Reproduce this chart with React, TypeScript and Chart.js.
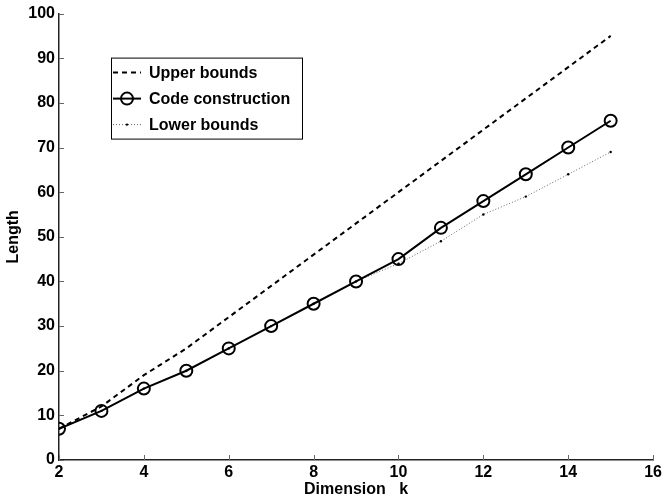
import React, { useEffect, useRef } from "react";
import { Chart, registerables } from "chart.js";

Chart.register(...registerables);

const dimensions = [2, 3, 4, 5, 6, 7, 8, 9, 10, 11, 12, 13, 14, 15];
const upperBounds = [7, 12, 19, 25, 32, 39, 46, 53, 60, 67, 74, 81, 88, 95];
const codeConstruction = [7, 11, 16, 20, 25, 30, 35, 40, 45, 52, 58, 64, 70, 76];
const lowerBounds = [7, 11, 16, 20, 25, 30, 35, 40, 44, 49, 55, 59, 64, 69];
const xTicks = [2, 4, 6, 8, 10, 12, 14, 16];
const yTicks = [0, 10, 20, 30, 40, 50, 60, 70, 80, 90, 100];
const seriesLabels = ["Upper bounds", "Code construction", "Lower bounds"];
const xTitle = "Dimension   k";
const yTitle = "Length";

const FONT = "'Liberation Sans', Arial, Helvetica, sans-serif";

const inwardTicks = {
  id: "inwardTicks",
  afterDraw(chart: any) {
    const { ctx, chartArea, scales } = chart;
    ctx.save();
    ctx.strokeStyle = "#666";
    ctx.lineWidth = 1;
    const xs = scales.x;
    const ys = scales.y;
    xs.ticks.forEach((t: any) => {
      const px = Math.round(xs.getPixelForValue(t.value)) + 0.5;
      ctx.beginPath();
      ctx.moveTo(px, chartArea.bottom);
      ctx.lineTo(px, chartArea.bottom - 5);
      ctx.stroke();
    });
    ys.ticks.forEach((t: any) => {
      const py = Math.round(ys.getPixelForValue(t.value)) + 0.5;
      ctx.beginPath();
      ctx.moveTo(chartArea.left, py);
      ctx.lineTo(chartArea.left + 5, py);
      ctx.stroke();
    });
    ctx.restore();
  },
};

const boxLegend = {
  id: "boxLegend",
  afterDraw(chart: any) {
    const { ctx, chartArea } = chart;
    const left = chartArea.left + 52;
    const top = chartArea.top + 44;
    const w = 191;
    const h = 81;
    ctx.save();
    ctx.fillStyle = "#fff";
    ctx.fillRect(left, top, w, h);
    ctx.strokeStyle = "#000";
    ctx.lineWidth = 1;
    ctx.strokeRect(left + 0.5, top + 0.5, w, h);
    ctx.font = `bold 16px ${FONT}`;
    ctx.textBaseline = "middle";
    ctx.fillStyle = "#000";
    chart.data.datasets.forEach((ds: any, i: number) => {
      const cy = top + 15 + i * 26;
      const x0 = left + 2;
      const x1 = left + 30;
      ctx.save();
      ctx.strokeStyle = ds.borderColor;
      ctx.lineWidth = ds.borderWidth;
      ctx.setLineDash(ds.borderDash || []);
      ctx.beginPath();
      ctx.moveTo(x0, cy);
      ctx.lineTo(x1, cy);
      ctx.stroke();
      ctx.setLineDash([]);
      if (ds.pointStyle === "circle" && ds.pointRadius > 2) {
        ctx.lineWidth = ds.pointBorderWidth;
        ctx.strokeStyle = ds.pointBorderColor;
        ctx.beginPath();
        ctx.arc((x0 + x1) / 2, cy, ds.pointRadius, 0, Math.PI * 2);
        ctx.stroke();
      } else if (ds.pointRadius > 0) {
        ctx.fillStyle = ds.pointBorderColor;
        ctx.beginPath();
        ctx.arc((x0 + x1) / 2, cy, ds.pointRadius, 0, Math.PI * 2);
        ctx.fill();
      }
      ctx.restore();
      ctx.fillText(ds.label, left + 38, cy + 1);
    });
    ctx.restore();
  },
};

export default function App() {
  const ref = useRef<HTMLCanvasElement>(null);
  useEffect(() => {
    document.body.style.margin = "0";
    const canvas = ref.current!;
    const chart = new Chart(canvas, {
      type: "line",
      data: {
        datasets: [
          {
            label: seriesLabels[0],
            data: dimensions.map((d, i) => ({ x: d, y: upperBounds[i] })),
            borderColor: "#000",
            borderWidth: 2,
            borderDash: [5, 4],
            pointRadius: 0,
            pointBorderColor: "#000",
            fill: false,
            order: 1,
          },
          {
            label: seriesLabels[1],
            data: dimensions.map((d, i) => ({ x: d, y: codeConstruction[i] })),
            borderColor: "#000",
            borderWidth: 2,
            pointStyle: "circle",
            pointRadius: 6,
            pointBorderWidth: 2,
            pointBorderColor: "#000",
            pointBackgroundColor: "rgba(0,0,0,0)",
            fill: false,
            order: 0,
          },
          {
            label: seriesLabels[2],
            data: dimensions.map((d, i) => ({ x: d, y: lowerBounds[i] })),
            borderColor: "#666",
            borderWidth: 1,
            borderDash: [1, 2],
            pointRadius: 1.2,
            pointBorderWidth: 0,
            pointBorderColor: "#000",
            pointBackgroundColor: "#000",
            fill: false,
            order: 2,
          },
        ],
      },
      options: {
        animation: false,
        responsive: false,
        maintainAspectRatio: false,
        layout: { padding: { top: 10, right: 11, left: 0, bottom: 0 } },
        plugins: { legend: { display: false }, tooltip: { enabled: false } },
        scales: {
          x: {
            type: "linear",
            min: 2,
            max: 16,
            afterBuildTicks: (s: any) => {
              s.ticks = xTicks.map((v) => ({ value: v }));
            },
            afterFit: (s: any) => {
              s.height = 42;
            },
            grid: { display: true, drawOnChartArea: false, drawTicks: false },
            border: { display: true, color: "#222", width: 1.5 },
            ticks: {
              color: "#000",
              padding: 3,
              maxRotation: 0,
              font: { family: FONT, size: 16, weight: "bold" },
            },
            title: {
              display: true,
              text: xTitle,
              color: "#000",
              padding: { top: 0, bottom: 3 },
              font: { family: FONT, size: 16, weight: "bold" },
            },
          },
          y: {
            type: "linear",
            min: 0,
            max: 100,
            afterBuildTicks: (s: any) => {
              s.ticks = yTicks.map((v) => ({ value: v }));
            },
            afterFit: (s: any) => {
              s.width = 59;
            },
            grid: { display: true, drawOnChartArea: false, drawTicks: false },
            border: { display: true, color: "#222", width: 1.5 },
            ticks: {
              color: "#000",
              padding: 4,
              font: { family: FONT, size: 16, weight: "bold" },
            },
            title: {
              display: true,
              text: yTitle,
              color: "#000",
              padding: { top: 4, bottom: 0 },
              font: { family: FONT, size: 16, weight: "bold" },
            },
          },
        },
      },
      plugins: [inwardTicks, boxLegend],
    });
    return () => chart.destroy();
  }, []);
  return (
    <div style={{ width: 665, height: 502 }}>
      <canvas ref={ref} width={665} height={502} style={{ display: "block", width: 665, height: 502 }} />
    </div>
  );
}
